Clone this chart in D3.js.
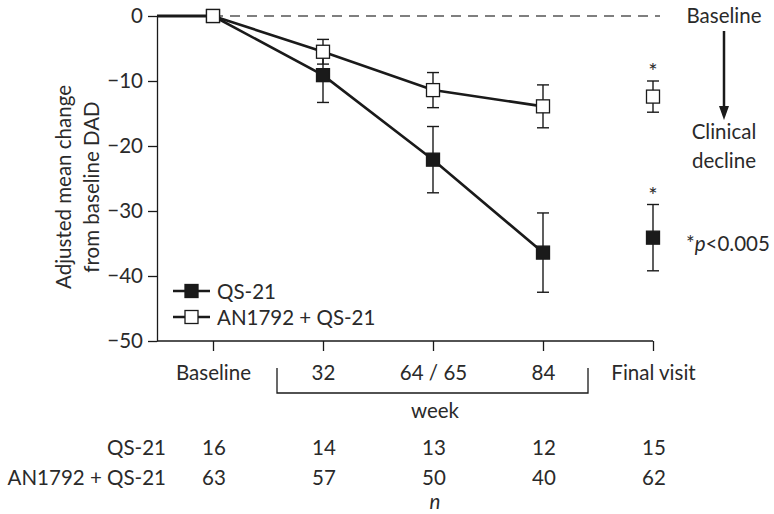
<!DOCTYPE html>
<html>
<head>
<meta charset="utf-8">
<script src="https://cdn.jsdelivr.net/npm/d3@7"></script>
<style>
  body { margin: 0; background: #fff; }
  svg text { font-family: Lato, "Open Sans", sans-serif; fill: #2a2a2a; }
</style>
</head>
<body>
<div id="chart"></div>
<script>
var width = 774,
    height = 514;

// visits along the x axis
var visits = ["Baseline", "32", "64 / 65", "84", "Final visit"];
var connected = [true, true, true, true, false];
var signif = [false, false, false, false, true];

// adjusted mean change from baseline DAD (+/- error)
var qsMean = [0, -9.1, -22.1, -36.4, -34.1];
var qsErr  = [0, 4.2, 5.1, 6.1, 5.1];
var anMean = [0, -5.5, -11.4, -13.9, -12.4];
var anErr  = [0, 1.9, 2.7, 3.3, 2.4];

// n per visit
var nQS = [16, 14, 13, 12, 15];
var nAN = [63, 57, 50, 40, 62];

var yTicks = [0, -10, -20, -30, -40, -50];

var fs = "20.5px";
var axisX = 157;
var x = d3.scalePoint().domain(visits).range([213, 653]);
var y = d3.scaleLinear().domain([-50, 0]).range([341, 16]);

var svg = d3.select("#chart").append("svg")
    .attr("width", width)
    .attr("height", height);

var ink = "#1a1a1a";

// y axis
var yAxis = svg.append("g")
    .attr("transform", "translate(" + axisX + ",0)")
    .call(d3.axisLeft(y).tickValues(yTicks).tickSize(9).tickSizeOuter(0).tickPadding(5));
yAxis.selectAll("text").style("font-size", fs).attr("fill", "#2a2a2a");
yAxis.selectAll("line, path").attr("stroke", ink).attr("stroke-width", 1.3);

// x axis
var xAxis = svg.append("g")
    .attr("transform", "translate(0," + y(-50) + ")")
    .call(d3.axisBottom(x).tickSize(10).tickSizeOuter(0));
xAxis.select(".domain").attr("d", "M" + axisX + ",0H" + x(visits[visits.length - 1]));
xAxis.selectAll("line, path").attr("stroke", ink).attr("stroke-width", 1.3);
xAxis.selectAll("text")
    .style("font-size", fs)
    .attr("fill", "#2a2a2a")
    .attr("y", 39)
    .attr("dy", 0);

// bracket marking weeks
var bx0 = (x("Baseline") + x("32")) / 2 + 9,
    bx1 = (x("84") + x("Final visit")) / 2 - 10;
svg.append("path")
    .attr("d", "M" + bx0 + "," + (y(-50) + 27) + "V" + (y(-50) + 52) + "H" + bx1 + "V" + (y(-50) + 27))
    .attr("fill", "none").attr("stroke", ink).attr("stroke-width", 1.3);
svg.append("text")
    .attr("x", x("64 / 65") + 2).attr("y", 418)
    .attr("text-anchor", "middle").style("font-size", fs).text("week");

// y label
var ylab = svg.append("text")
    .attr("transform", "translate(71,187) rotate(-90)")
    .attr("text-anchor", "middle")
    .style("font-size", fs);
ylab.append("tspan").attr("x", 0).attr("dy", 0).text("Adjusted mean change");
ylab.append("tspan").attr("x", 0).attr("dy", 28).text("from baseline DAD");

// baseline dashed reference
svg.append("line")
    .attr("x1", x("Baseline")).attr("x2", 660)
    .attr("y1", y(0)).attr("y2", y(0))
    .attr("stroke", "#555").attr("stroke-width", 1.5)
    .attr("stroke-dasharray", "10,7");
svg.append("line")
    .attr("x1", axisX).attr("x2", x("Baseline"))
    .attr("y1", y(0)).attr("y2", y(0))
    .attr("stroke", ink).attr("stroke-width", 3.2);

function series(means, errs) {
    var pts = visits.map(function(v, i) {
        return { v: v, m: means[i], e: errs[i], c: connected[i], s: signif[i] };
    });
    var g = svg.append("g");
    g.append("path")
        .datum(pts.filter(function(d) { return d.c; }))
        .attr("fill", "none").attr("stroke", ink).attr("stroke-width", 2.6)
        .attr("d", d3.line().x(function(d) { return x(d.v); }).y(function(d) { return y(d.m); }));
    var eb = g.selectAll(".eb").data(pts.filter(function(d) { return d.e > 0; }))
        .enter().append("g");
    eb.append("line")
        .attr("x1", function(d) { return x(d.v); }).attr("x2", function(d) { return x(d.v); })
        .attr("y1", function(d) { return y(d.m + d.e); }).attr("y2", function(d) { return y(d.m - d.e); })
        .attr("stroke", ink).attr("stroke-width", 1.4);
    [1, -1].forEach(function(s) {
        eb.append("line")
            .attr("x1", function(d) { return x(d.v) - 6; }).attr("x2", function(d) { return x(d.v) + 6; })
            .attr("y1", function(d) { return y(d.m + s * d.e); }).attr("y2", function(d) { return y(d.m + s * d.e); })
            .attr("stroke", ink).attr("stroke-width", 1.4);
    });
    g.selectAll(".star").data(pts.filter(function(d) { return d.s; }))
        .enter().append("text")
        .attr("x", function(d) { return x(d.v); })
        .attr("y", function(d) { return y(d.m + d.e) - 2; })
        .attr("text-anchor", "middle").attr("fill", "#333")
        .style("font-size", "22px").text("*");
    return g;
}

var gq = series(qsMean, qsErr);
var ga = series(anMean, anErr);

// markers (filled first, open on top)
function markers(g, means, fill, sz) {
    g.selectAll(".mk").data(means).enter().append("rect")
        .attr("x", function(d, i) { return x(visits[i]) - sz / 2; })
        .attr("y", function(d) { return y(d) - sz / 2; })
        .attr("width", sz).attr("height", sz)
        .attr("fill", fill).attr("stroke", ink).attr("stroke-width", 1.3);
}
markers(gq, qsMean, ink, 13);
markers(ga, anMean, "#fff", 13);

// legend
var legend = [["QS-21", ink], ["AN1792 + QS-21", "#fff"]];
var lg = svg.selectAll(".lg").data(legend).enter().append("g")
    .attr("transform", function(d, i) { return "translate(173," + (291 + i * 26) + ")"; });
lg.append("line").attr("x1", 0).attr("x2", 37).attr("stroke", ink).attr("stroke-width", 2.6);
lg.append("rect").attr("x", 12).attr("y", -6.5).attr("width", 13).attr("height", 13)
    .attr("fill", function(d) { return d[1]; }).attr("stroke", ink).attr("stroke-width", 1.3);
lg.append("text").attr("x", 44).attr("y", 7.5).style("font-size", fs).text(function(d) { return d[0]; });

// right-side annotation
svg.append("text").attr("x", 724).attr("y", 23).attr("text-anchor", "middle")
    .style("font-size", fs).text("Baseline");
svg.append("line").attr("x1", 724).attr("x2", 724).attr("y1", 31).attr("y2", 108)
    .attr("stroke", ink).attr("stroke-width", 2.5);
svg.append("path").attr("d", "M719,106L729,106L724,120Z").attr("fill", ink);
svg.append("text").attr("x", 724).attr("y", 139).attr("text-anchor", "middle")
    .style("font-size", fs).text("Clinical");
svg.append("text").attr("x", 724).attr("y", 168).attr("text-anchor", "middle")
    .style("font-size", fs).text("decline");
var pt = svg.append("text").attr("x", 686).attr("y", 251).style("font-size", fs);
pt.append("tspan").text("*");
pt.append("tspan").style("font-style", "italic").text("p");
pt.append("tspan").text("<0.005");

// n table
var rows = [["QS-21", nQS], ["AN1792 + QS-21", nAN]];
var tr = svg.selectAll(".row").data(rows).enter().append("g")
    .attr("transform", function(d, i) { return "translate(0," + (455 + i * 30) + ")"; });
tr.append("text").attr("x", 166).attr("text-anchor", "end").style("font-size", fs)
    .text(function(d) { return d[0]; });
tr.selectAll(".n").data(function(d) { return d[1]; }).enter().append("text")
    .attr("x", function(d, i) { return x(visits[i]) + 1; })
    .attr("text-anchor", "middle").style("font-size", fs)
    .text(function(d) { return d; });
svg.append("text").attr("x", x("64 / 65") + 2).attr("y", 509).attr("text-anchor", "middle")
    .style("font-size", fs).style("font-style", "italic").text("n");
</script>
</body>
</html>
